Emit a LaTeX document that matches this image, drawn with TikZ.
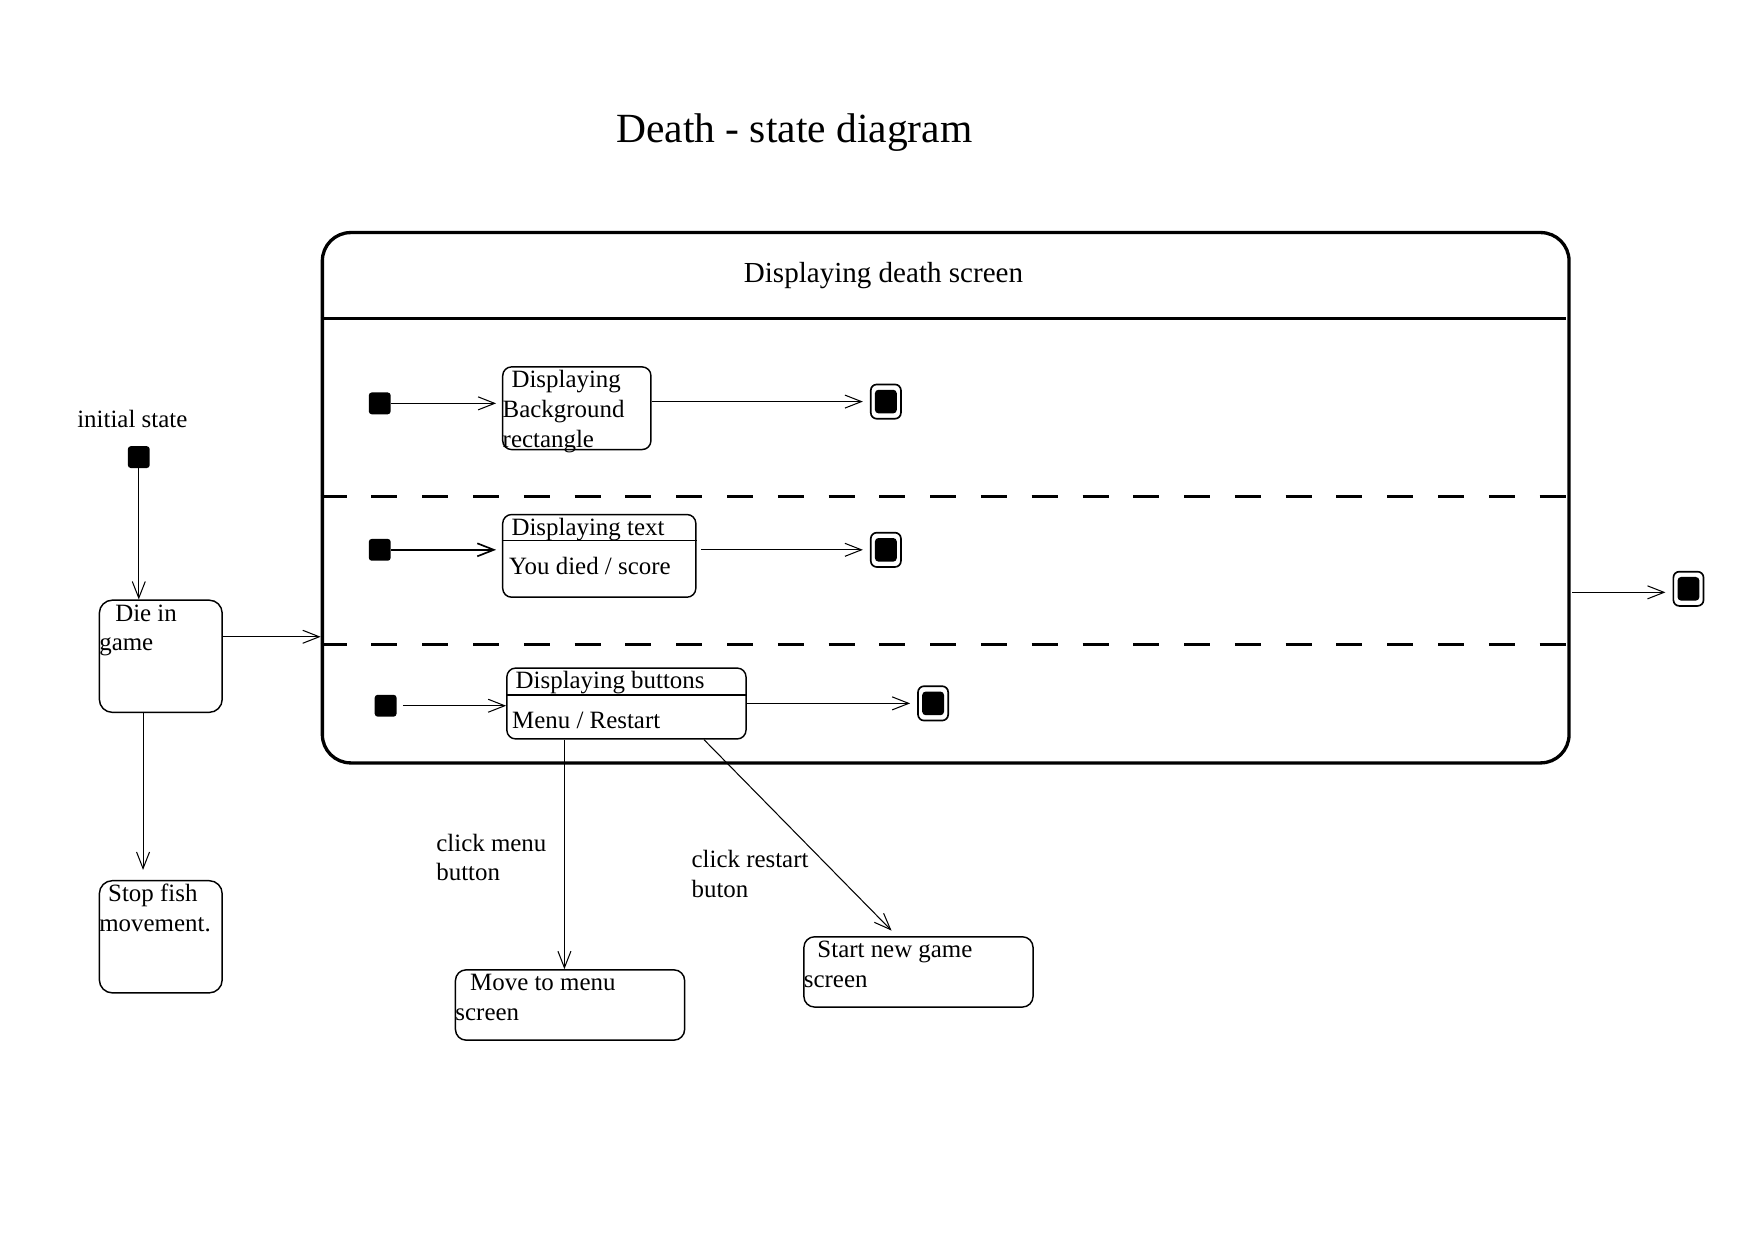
\documentclass[tikz,border=0pt]{standalone}
\usepackage{fontspec}
\setmainfont{Liberation Serif}
\usetikzlibrary{arrows.meta}

\newcommand{\boxtext}[3]{\parbox[t][#2][t]{#1}{\raggedright\strut #3}}

\begin{document}
\begin{tikzpicture}[
    >={Straight Barb[length=2.8mm,width=2.2mm]},
    every node/.style={font=\fontsize{12}{14.4}\selectfont},
    state/.style={draw, line width=0.7pt, rounded corners=#1, inner sep=0pt, anchor=north west},
    state/.default=1.6mm,
    initdot/.style={fill, rounded corners=0.5mm, minimum size=3.7mm, inner sep=0pt},
    finaldot/.style={draw, line width=0.8pt, rounded corners=1mm, minimum width=5.1mm,
      minimum height=5.8mm, inner sep=0pt,
      path picture={\fill[rounded corners=0.6mm]
        ([shift={(0.7mm,0.9mm)}]path picture bounding box.south west) rectangle
        ([shift={(-0.7mm,-0.9mm)}]path picture bounding box.north east);}},
    trans/.style={->, line width=0.5pt},
    region/.style={line width=1.6pt, dash pattern=on 4.4mm off 4.2mm}
  ]
  \useasboundingbox (0, 0) rectangle (29.7, 21.0);
  \node[font=\fontsize{20}{24}\selectfont] (title) at (13.45, 18.75) {Death - state diagram};

  \node[draw, line width=1.6pt, rounded corners=4.8mm, minimum width=21.11cm,
    minimum height=8.98cm, inner sep=0pt, anchor=north west] (screen) at (5.43, 17.09) {};
  \node[font=\fontsize{14}{17}\selectfont] (screentitle) at (14.96, 16.34) {Displaying death screen};
  \draw [line width=1.6pt] ([yshift=-1.48cm]screen.north west) -- ([yshift=-1.48cm, xshift=-0.08cm]screen.north east);
  \draw [region] ([yshift=-4.50cm]screen.north west) -- ([yshift=-4.50cm]screen.north east);
  \draw [region] ([yshift=-7.00cm]screen.north west) -- ([yshift=-7.00cm]screen.north east);

  \node[initdot] (init1) at (6.43, 14.17) {};
  \node[state=1.5mm] (bg) at (8.50, 14.80) {\boxtext{2.51cm}{1.40cm}{\hspace*{1.5mm}Displaying\\Background\\rectangle}};
  \node[finaldot] (fin1) at (15.00, 14.20) {};
  \draw [trans, shorten >=1mm] (init1) -- (init1 -| bg.west);
  \draw [trans, shorten >=1.2mm] (bg.east |- fin1) -- (fin1);

  \node[initdot] (init2) at (6.43, 11.69) {};
  \node[state=1.5mm] (txt) at (8.50, 12.30) {\boxtext{3.27cm}{1.40cm}{\hspace*{1.5mm}Displaying text\\[1.6mm]\hspace*{1.1mm}You died / score}};
  \draw [line width=0.7pt] ([yshift=-0.45cm]txt.north west) -- ([yshift=-0.45cm]txt.north east);
  \node[finaldot] (fin2) at (15.00, 11.69) {};
  \draw [trans, line width=0.8pt, shorten >=1mm] (init2) -- (init2 -| txt.west);
  \draw [trans, shorten <=0.8mm, shorten >=1.2mm] (txt.east |- fin2) -- (fin2);

  \node[initdot] (init3) at (6.53, 9.05) {};
  \node[state=1.5mm] (btn) at (8.57, 9.70) {\boxtext{4.05cm}{1.20cm}{\hspace*{1.5mm}Displaying buttons\\[1.6mm]\hspace*{0.9mm}Menu / Restart}};
  \draw [line width=0.7pt] ([yshift=-0.47cm]btn.north west) -- ([yshift=-0.47cm]btn.north east);
  \node[finaldot] (fin3) at (15.80, 9.09) {};
  \draw [trans, shorten <=1mm] (init3) -- (init3 -| btn.west);
  \draw [trans, shorten >=1.2mm] (btn.east |- fin3) -- (fin3);

  \node (initlabel) at (2.24, 13.91) {initial state};
  \node[initdot] (init0) at (2.35, 13.26) {};
  \node[state=2.2mm] (die) at (1.67, 10.85) {\boxtext{2.08cm}{1.90cm}{\hspace*{2.7mm}Die in\\game}};
  \node[state=2.2mm] (stop) at (1.67, 6.10) {\boxtext{2.08cm}{1.90cm}{\hspace*{1.5mm}Stop fish\\movement.}};
  \node[state=1.8mm] (menu) at (7.70, 4.59) {\boxtext{3.88cm}{1.19cm}{\hspace*{2.5mm}Move to menu\\screen}};
  \node[state=1.8mm] (newgame) at (13.60, 5.15) {\boxtext{3.88cm}{1.19cm}{\hspace*{2.3mm}Start new game\\screen}};
  \node[finaldot] (fin0) at (28.59, 11.03) {};
  \node[align=left, inner sep=0pt] (menulabel) at (8.32, 6.48) {click menu\\button};
  \node[align=left, inner sep=0pt] (restartlabel) at (12.70, 6.20) {click restart\\buton};

  \draw [trans] (init0) -- (init0 |- die.north);
  \draw [trans] ([yshift=0.33cm]die.east) -- ([yshift=0.33cm]die.east -| screen.west);
  \draw [trans, shorten >=1.7mm] ([xshift=-0.3cm]die.south) -- ([xshift=-0.3cm]stop.north);
  \draw [trans, shorten <=0.3mm, shorten >=1.2mm] ([yshift=-0.06cm]screen.east |- fin0) -- ([yshift=-0.06cm]fin0.west);
  \draw [trans] ([xshift=-1.05cm]btn.south) -- ([xshift=-1.05cm]btn.south |- menu.north);
  \draw [trans, shorten >=1.3mm] (btn.-25) -- (newgame.121);
\end{tikzpicture}
\end{document}
